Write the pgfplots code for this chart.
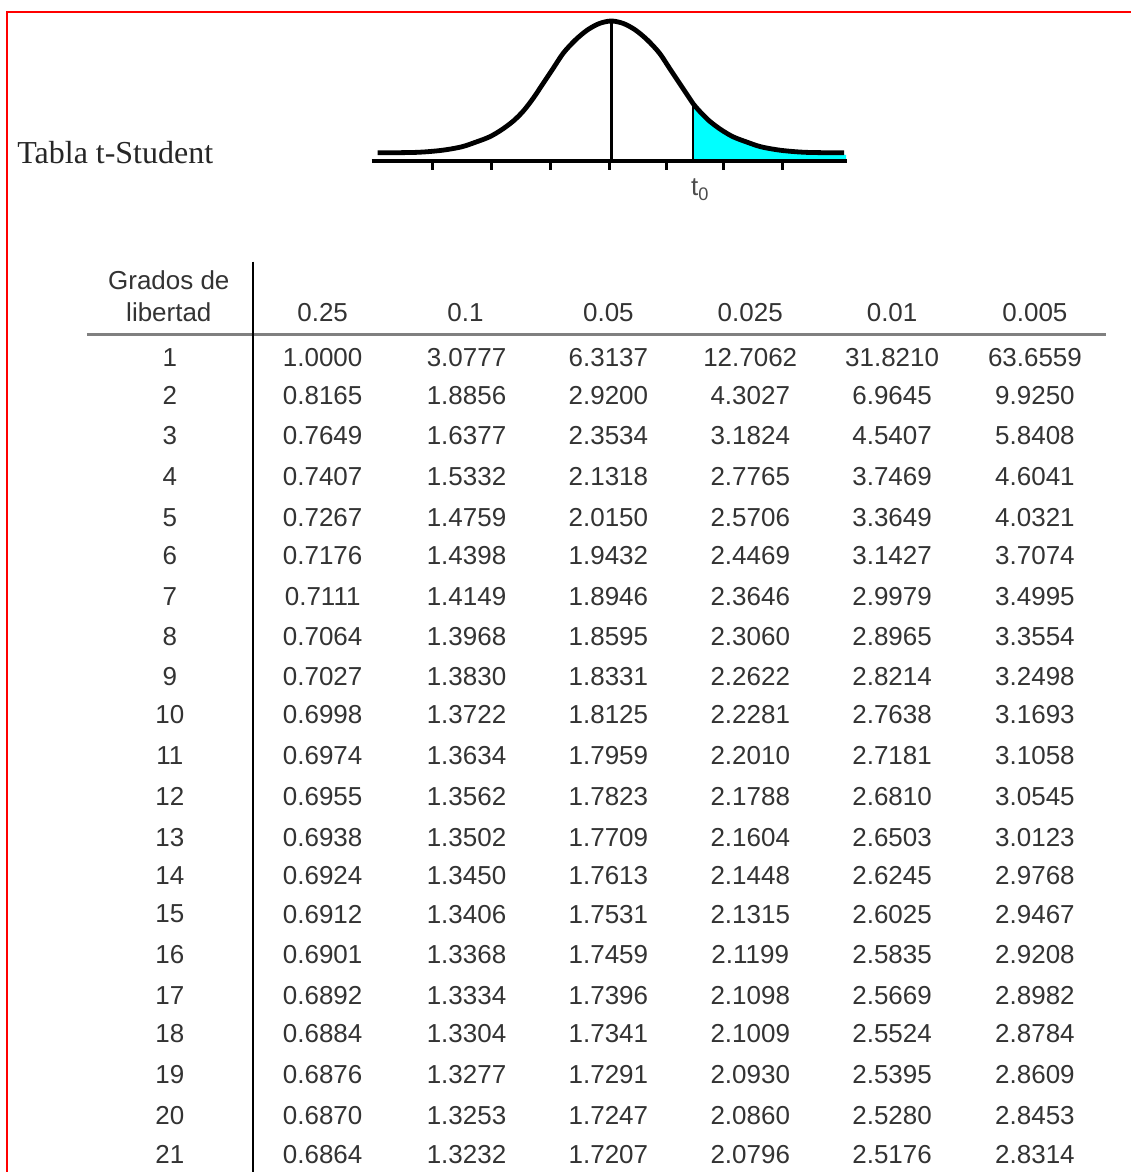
\documentclass[border=0pt]{standalone}
\usepackage{pgfplots}
\pgfplotsset{compat=1.18}
\usepackage{pgfplotstable}
\usepackage{fontspec}
\setmainfont{Liberation Sans}
\newfontfamily\timesfont{Liberation Serif}
\definecolor{tailcyan}{RGB}{0,255,255}

% t values: row centre (px), degrees of freedom, one column per tail probability
\pgfplotstableread{
y    df a      b      c      d       e       f
358  1  1.0000 3.0777 6.3137 12.7062 31.8210 63.6559
396  2  0.8165 1.8856 2.9200 4.3027  6.9645  9.9250
436  3  0.7649 1.6377 2.3534 3.1824  4.5407  5.8408
477  4  0.7407 1.5332 2.1318 2.7765  3.7469  4.6041
518  5  0.7267 1.4759 2.0150 2.5706  3.3649  4.0321
556  6  0.7176 1.4398 1.9432 2.4469  3.1427  3.7074
597  7  0.7111 1.4149 1.8946 2.3646  2.9979  3.4995
637  8  0.7064 1.3968 1.8595 2.3060  2.8965  3.3554
677  9  0.7027 1.3830 1.8331 2.2622  2.8214  3.2498
715  10 0.6998 1.3722 1.8125 2.2281  2.7638  3.1693
756  11 0.6974 1.3634 1.7959 2.2010  2.7181  3.1058
797  12 0.6955 1.3562 1.7823 2.1788  2.6810  3.0545
838  13 0.6938 1.3502 1.7709 2.1604  2.6503  3.0123
876  14 0.6924 1.3450 1.7613 2.1448  2.6245  2.9768
915  15 0.6912 1.3406 1.7531 2.1315  2.6025  2.9467
956  16 0.6901 1.3368 1.7459 2.1199  2.5835  2.9208
997  17 0.6892 1.3334 1.7396 2.1098  2.5669  2.8982
1035 18 0.6884 1.3304 1.7341 2.1009  2.5524  2.8784
1076 19 0.6876 1.3277 1.7291 2.0930  2.5395  2.8609
1117 20 0.6870 1.3253 1.7247 2.0860  2.5280  2.8453
1156 21 0.6864 1.3232 1.7207 2.0796  2.5176  2.8314
}\ttable

% density curve (px)
\pgfplotstableread{
x   y
378 153
417 152.5
442 150.5
462 147
477 142
490 137
502 130
514 121
524 111
534 98
544 83
554 68
564 53
576 40
588 30
600 23.5
612 21
624 23.5
636 30
648 40
660 53
670 68
680 83
690 98
694 104
700 111
710 121
722 130
734 137
747 142
762 147
782 150.5
807 152.5
845 153
}\curve

\pgfplotstableread{
x   y
694 160
694 104
700 111
710 121
722 130
734 137
747 142
762 147
782 150.5
807 152.5
847 155
847 160
}\tail

\begin{document}
\begin{tikzpicture}
\begin{axis}[
    x=0.5pt, y=0.5pt, y dir=reverse,
    xmin=0, xmax=1132, ymin=0, ymax=1173,
    enlargelimits=false,
    hide axis, clip=false,
    txt/.style={mark=none, draw=none, nodes near coords,
        point meta=explicit symbolic,
        every node near coord/.append style={anchor=center, inner sep=0pt,
            font=\fontsize{13}{15}\selectfont, text=black!80}},
]
% page background
\addplot[fill=white, draw=none] coordinates {(0,0) (1132,0) (1132,1173) (0,1173)} -- cycle;
% red frame
\addplot[red, line width=1.2pt, mark=none] coordinates {(7,1173) (7,12) (1132,12)};

% shaded tail and curve
\addplot[fill=tailcyan, draw=none] table {\tail} -- cycle;
\addplot[black, line width=0.8pt, mark=none] coordinates {(694,104) (694,160)};
\addplot[black, line width=2.4pt, mark=none, smooth, tension=0.5] table {\curve};
\addplot[black, line width=1.8pt, mark=none] coordinates {(612,21) (612,161)};
\addplot[black, line width=2pt, mark=none] coordinates {(372,161) (848,161)};
\addplot[black, line width=1.5pt, mark=none] coordinates {(433,161) (433,170)};
\addplot[black, line width=1.5pt, mark=none] coordinates {(492,161) (492,170)};
\addplot[black, line width=1.5pt, mark=none] coordinates {(551,161) (551,170)};
\addplot[black, line width=1.5pt, mark=none] coordinates {(610,161) (610,170)};
\addplot[black, line width=1.5pt, mark=none] coordinates {(667,161) (667,170)};
\addplot[black, line width=1.5pt, mark=none] coordinates {(724,161) (724,170)};
\addplot[black, line width=1.5pt, mark=none] coordinates {(783,161) (783,170)};
\addplot[txt, every node near coord/.append style={text=black!70}] coordinates {(701,190) [t\textsubscript{0}]};

% title
\addplot[txt, every node near coord/.append style={anchor=base west,
    font=\timesfont\fontsize{16}{18}\selectfont, text=black!85}]
    coordinates {(17,164) [Tabla t-Student]};

% table rules
\addplot[black!50, line width=1.5pt, mark=none] coordinates {(87,335) (1107,335)};
\addplot[black, line width=0.9pt, mark=none] coordinates {(253,262) (253,1173)};

% header
\addplot[txt] coordinates {(169,280) [Grados de] (169,313) [libertad]};
\addplot[txt] coordinates {(323,313) [0.25] (466,313) [0.1] (609,313) [0.05]
    (751,313) [0.025] (893,313) [0.01] (1036,313) [0.005]};

% body
\addplot[txt] table[x expr=170, y=y, meta=df] {\ttable};
\addplot[txt] table[x expr=323, y=y, meta=a] {\ttable};
\addplot[txt] table[x expr=467, y=y, meta=b] {\ttable};
\addplot[txt] table[x expr=609, y=y, meta=c] {\ttable};
\addplot[txt] table[x expr=751, y=y, meta=d] {\ttable};
\addplot[txt] table[x expr=893, y=y, meta=e] {\ttable};
\addplot[txt] table[x expr=1036, y=y, meta=f] {\ttable};
\end{axis}
\end{tikzpicture}
\end{document}
